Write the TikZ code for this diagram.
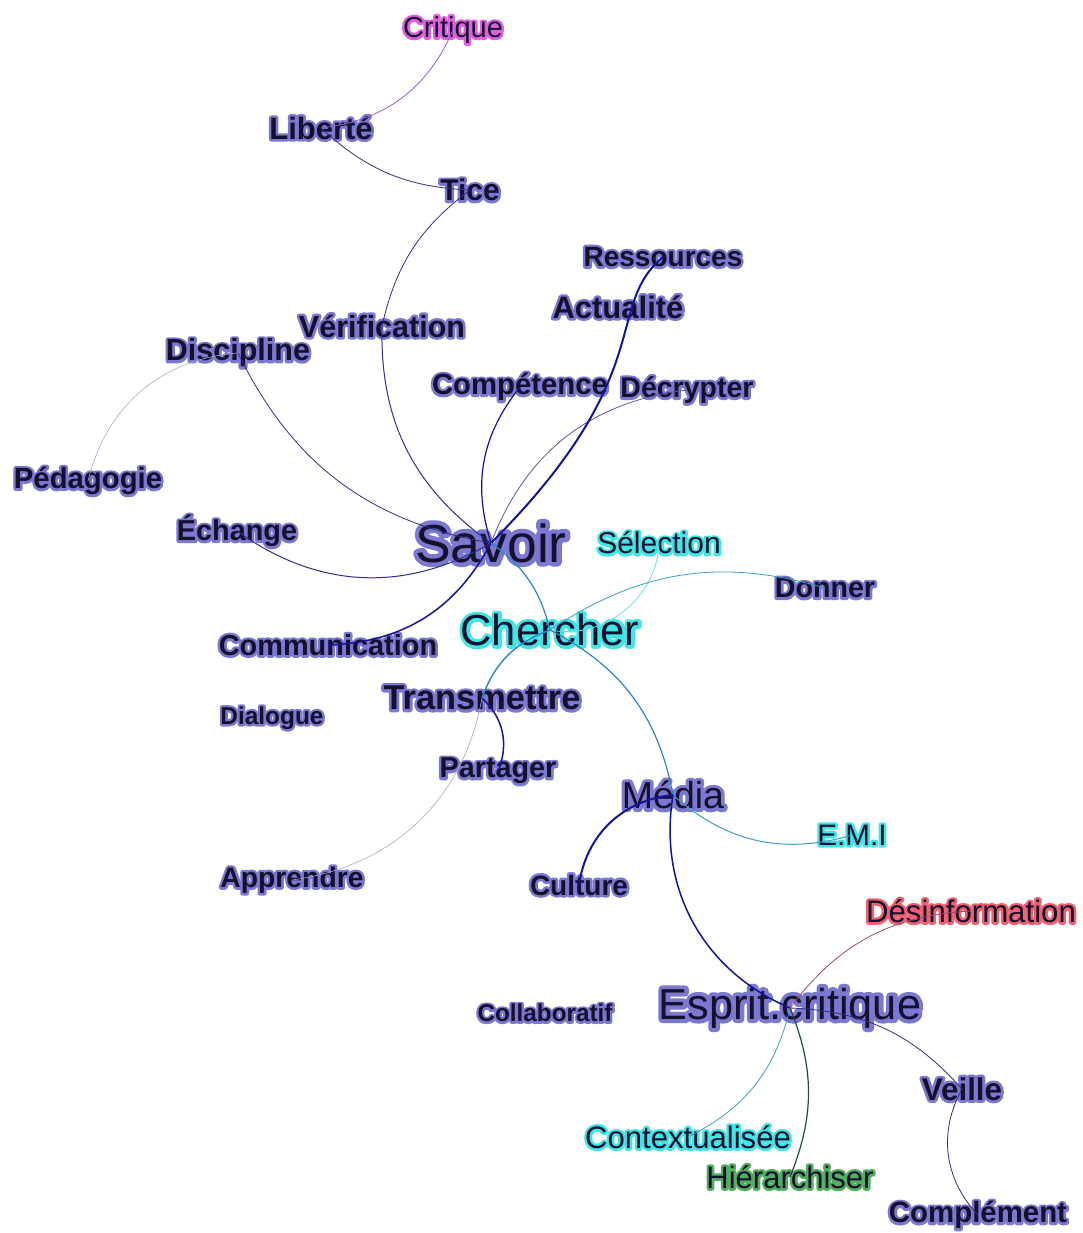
\documentclass[tikz,border=0pt]{standalone}
\usepackage{fontspec}
\setmainfont{Liberation Sans}
\usetikzlibrary{positioning}
\definecolor{WordInk}{HTML}{15102E}
\definecolor{HaloBlue}{HTML}{7B78CF}
\definecolor{HaloCyan}{HTML}{40E6E6}
\definecolor{HaloPink}{HTML}{E060E0}
\definecolor{HaloRed}{HTML}{F06070}
\definecolor{HaloGreen}{HTML}{50B060}
\definecolor{LinkNavy}{HTML}{2E2E8E}
\definecolor{LinkDeep}{HTML}{14149A}
\definecolor{LinkTeal}{HTML}{2A86C4}
\definecolor{LinkSky}{HTML}{6ADCEB}
\definecolor{LinkPale}{HTML}{A8A8CC}
\definecolor{LinkRose}{HTML}{A04A6A}
\definecolor{LinkMauve}{HTML}{9A5CC4}
\definecolor{LinkSea}{HTML}{3C9EC8}
\definecolor{LinkPine}{HTML}{1E4A4A}
% outlined copy of a word, drawn under the word itself
\newcommand\halotext[2][5]{\special{pdf:literal direct 1 Tr #1 w 1 j}#2\special{pdf:literal direct 0 Tr}}
% name, position, style, halo colour, halo width, text
\newcommand\wordat[6]{%
  \node[#3, text=#4] at (#2) {\halotext[#5]{#6}};
  \node[#3] (#1) at (#2) {#6};}

\begin{document}
\begin{tikzpicture}[x=1pt, y=-1pt,
    word/.style={inner sep=0pt, text=WordInk, font=\fontsize{#1}{#1}\selectfont},
    bold word/.style={inner sep=0pt, text=WordInk, font=\fontsize{#1}{#1}\selectfont\bfseries},
    link/.style={line width=#1pt}]
    \useasboundingbox (0,0) rectangle (1083,1233);
    \fill[white] (0,0) rectangle (1083,1233);

    % Top branch
    \wordat{critique}{453,30}{word=29}{HaloPink}{5}{Critique}
    \wordat{liberte}{321,128}{bold word=31}{HaloBlue}{5}{Liberté}
    \wordat{tice}{470,190}{bold word=30}{HaloBlue}{5}{Tice}
    \wordat{ressources}{663,257}{bold word=28}{HaloBlue}{5}{Ressources}
    \wordat{actualite}{618,307}{bold word=31}{HaloBlue}{5}{Actualité}
    \wordat{verification}{382,326}{bold word=30.5}{HaloBlue}{5}{Vérification}
    \wordat{discipline}{238,353}{bold word=30.5}{HaloBlue}{5}{Discipline}
    \wordat{competence}{520,387}{bold word=29.3}{HaloBlue}{5}{Compétence}
    \wordat{decrypter}{687,390}{bold word=28.5}{HaloBlue}{5}{Décrypter}
    \wordat{pedagogie}{88,481}{bold word=29.3}{HaloBlue}{5}{Pédagogie}
    \wordat{echange}{237,531}{bold word=28.8}{HaloBlue}{5}{Échange}

    % Middle: Savoir and Chercher
    \wordat{savoir}{491,543}{word=53.5}{HaloBlue}{9}{Savoir}
    \wordat{selection}{659,543}{word=30}{HaloCyan}{5}{Sélection}
    \wordat{donner}{825,588}{bold word=28.6}{HaloBlue}{5}{Donner}
    \wordat{chercher}{550,630}{word=43.5}{HaloCyan}{6.5}{Chercher}
    \wordat{communication}{328,645}{bold word=28.9}{HaloBlue}{5}{Communication}
    \wordat{transmettre}{482,698}{bold word=34.4}{HaloBlue}{5.5}{Transmettre}
    \wordat{dialogue}{272,718}{bold word=24.4}{HaloBlue}{4.5}{Dialogue}
    \wordat{partager}{498,771}{bold word=28.8}{HaloBlue}{5}{Partager}
    \wordat{apprendre}{292,880}{bold word=28.3}{HaloBlue}{5}{Apprendre}

    % Lower: Media and Esprit critique
    \wordat{media}{673,795}{word=37.5}{HaloBlue}{7}{Média}
    \wordat{emi}{852,835}{word=29.6}{HaloCyan}{5}{E.M.I}
    \wordat{culture}{579,885}{bold word=28}{HaloBlue}{5}{Culture}
    \wordat{desinformation}{971,911}{word=31.2}{HaloRed}{5}{Désinformation}
    \wordat{collaboratif}{545,1013}{bold word=24.3}{HaloBlue}{4.5}{Collaboratif}
    \wordat{esprit}{790,1008}{word=43.3}{HaloBlue}{8}{Esprit.critique}
    \wordat{veille}{962,1089}{bold word=31.4}{HaloBlue}{5.5}{Veille}
    \wordat{contextualisee}{688,1137}{word=31.1}{HaloCyan}{5}{Contextualisée}
    \wordat{hierarchiser}{790,1177}{word=31}{HaloGreen}{5}{Hiérarchiser}
    \wordat{complement}{978,1215}{bold word=29.4}{HaloBlue}{5}{Complément}

    % Links around Savoir
    \draw[link=0.8, LinkMauve] (liberte.center) to[bend right=30] (critique.center);
    \draw[link=0.8, LinkNavy] (liberte.center) to[bend right=20] (tice.center);
    \draw[link=0.8, LinkNavy] (tice.center) to[bend right=20] (verification.center);
    \draw[link=1, LinkNavy] (verification.center) to[bend right=28] (savoir.center);
    \draw[link=0.6, LinkPale] (discipline.center) to[bend right=36] (pedagogie.center);
    \draw[link=0.8, LinkNavy] (discipline.center) to[bend right=27] (savoir.center);
    \draw[link=1, LinkNavy] (echange.center) to[bend right=33] (savoir.center);
    \draw[link=1.5, LinkDeep] (communication.center) to[bend right=30] (savoir.center);
    \draw[link=1.2, LinkDeep] (competence.center) to[bend right=28] (savoir.center);
    \draw[link=0.8, LinkNavy!80] (decrypter.center) to[bend right=31] (savoir.center);
    \draw[link=2, LinkDeep] (ressources.center) .. controls +(-60,50) and +(170,-170) .. (savoir.center);

    % Links around Chercher
    \draw[link=1.2, LinkTeal] (savoir.center) to[bend left=20] (chercher.center);
    \draw[link=0.8, LinkSky] (selection.center) to[bend left=50] (chercher.center);
    \draw[link=0.8, LinkSea] (donner.center) to[bend right=25] (chercher.center);
    \draw[link=1.4, LinkTeal] (chercher.center) to[bend right=25] (transmettre.center);
    \draw[link=1.2, LinkTeal] (chercher.center) to[bend left=26] (media.center);
    \draw[link=1.5, LinkDeep] (transmettre.center) to[bend left=35] (partager.center);
    \draw[link=0.6, LinkPale] (transmettre.center) to[bend left=36] (apprendre.center);

    % Links around Media and Esprit critique
    \draw[link=2, LinkDeep] (media.center) to[bend right=38] (culture.center);
    \draw[link=1, LinkSea] (media.center) to[bend right=29] (emi.center);
    \draw[link=1.5, LinkDeep] (media.center) to[bend right=38] (esprit.center);
    \draw[link=0.8, LinkRose] (esprit.center) to[bend left=25] (desinformation.center);
    \draw[link=0.8, LinkNavy] (esprit.center) to[bend left=23] (veille.center);
    \draw[link=0.8, LinkNavy] (veille.center) to[bend right=36] (complement.center);
    \draw[link=0.8, LinkSea] (esprit.center) to[bend left=25] (contextualisee.center);
    \draw[link=1.2, LinkPine] (esprit.center) to[bend left=22] (hierarchiser.center);
\end{tikzpicture}
\end{document}
